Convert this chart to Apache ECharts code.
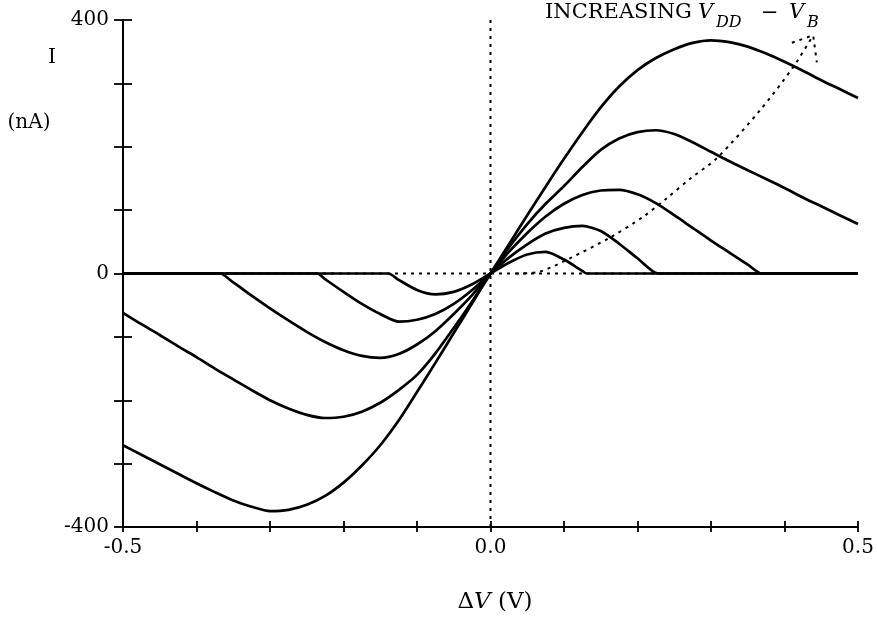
<!DOCTYPE html>
<html>
<head>
<meta charset="utf-8">
<script src="https://cdn.jsdelivr.net/npm/echarts@6/dist/echarts.min.js"></script>
<style>
  body { margin: 0; background: #fff; }
  #main { width: 877px; height: 620px; }
</style>
</head>
<body>
<div id="main"></div>
<script>
// curves, [dV (V), I (nA)], largest V_DD - V_B first
const curve1 = [[-0.5, -271], [-0.475, -286], [-0.45, -301], [-0.425, -316], [-0.4, -331], [-0.375, -345], [-0.35, -358], [-0.325, -368], [-0.3, -375], [-0.275, -373],
  [-0.25, -365], [-0.225, -351], [-0.2, -330], [-0.175, -303], [-0.15, -271], [-0.125, -232], [-0.1, -187], [-0.075, -141], [-0.05, -94], [-0.025, -47], [0, 0],
  [0.025, 46], [0.05, 92], [0.075, 137], [0.1, 181], [0.125, 223], [0.15, 262], [0.175, 295], [0.2, 321], [0.225, 340], [0.25, 354],
  [0.275, 364], [0.3, 368], [0.325, 365], [0.35, 358], [0.375, 347], [0.4, 334], [0.425, 320], [0.45, 305], [0.475, 291], [0.5, 277]]
const curve2 = [[-0.5, -62], [-0.475, -80], [-0.45, -97], [-0.425, -115], [-0.4, -132], [-0.375, -150], [-0.35, -167], [-0.325, -184], [-0.3, -200], [-0.275, -213],
  [-0.25, -223], [-0.225, -228], [-0.2, -226], [-0.175, -218], [-0.15, -204], [-0.125, -184], [-0.1, -160], [-0.075, -126], [-0.05, -86], [-0.025, -44], [0, 0],
  [0.025, 41], [0.05, 78], [0.075, 110], [0.1, 138], [0.125, 168], [0.15, 195], [0.175, 213], [0.2, 223], [0.225, 226], [0.25, 220],
  [0.275, 207], [0.3, 192], [0.325, 177], [0.35, 163], [0.375, 149], [0.4, 135], [0.425, 120], [0.45, 106], [0.475, 92], [0.5, 78]]
const curve3 = [[-0.5, 0], [-0.4, 0], [-0.375, 0], [-0.368, 0], [-0.35, -14], [-0.325, -35], [-0.3, -55], [-0.275, -74],
  [-0.25, -92], [-0.225, -108], [-0.2, -121], [-0.175, -130], [-0.15, -133], [-0.125, -127], [-0.1, -112], [-0.075, -91], [-0.05, -64], [-0.025, -34], [0, 0],
  [0.025, 34], [0.05, 64], [0.075, 90], [0.1, 110], [0.125, 124], [0.15, 131], [0.175, 132], [0.2, 125], [0.225, 111], [0.25, 92],
  [0.275, 72], [0.3, 52], [0.325, 33], [0.35, 14], [0.369, 0], [0.375, 0], [0.4, 0], [0.5, 0]]
const curve4 = [[-0.5, 0], [-0.3, 0], [-0.25, 0], [-0.236, 0], [-0.225, -9], [-0.2, -29], [-0.175, -48], [-0.15, -64], [-0.125, -76], [-0.1, -73], [-0.075, -64], [-0.05, -48], [-0.025, -26], [0, 0],
  [0.025, 25], [0.05, 46], [0.075, 63], [0.1, 72], [0.125, 75], [0.15, 67], [0.175, 47], [0.2, 24], [0.228, 0], [0.25, 0], [0.3, 0], [0.5, 0]]
const curve5 = [[-0.5, 0], [-0.2, 0], [-0.15, 0], [-0.139, 0], [-0.125, -10], [-0.1, -26], [-0.075, -33], [-0.05, -29], [-0.025, -17], [0, 0],
  [0.025, 17], [0.05, 30], [0.075, 34], [0.1, 22], [0.125, 4], [0.131, 0], [0.15, 0], [0.2, 0], [0.5, 0]]

// dotted guides and the "increasing" arrow
const zeroLine = [[-0.5, 0], [0.5, 0]]
const centreLine = [[0, -400], [0, 400]]
const arrowPath = [[0.035, 0], [0.067, 3], [0.108, 24], [0.163, 57], [0.207, 89], [0.24, 119], [0.272, 150], [0.308, 182], [0.367, 258], [0.412, 326], [0.439, 376]]
const arrowHead = [[0.41, 364], [0.439, 376], [0.444, 333]]

const xLabels = ['-0.5', '0.0', '0.5']
const yLabels = ['-400', '0', '400']

const serif = 'DejaVu Serif'
const chart = echarts.init(document.getElementById('main'))

const curveSeries = [curve1, curve2, curve3, curve4, curve5].map((d) => ({
  type: 'line',
  data: d,
  smooth: 0.25,
  symbol: 'none',
  z: 3,
  lineStyle: { color: '#000', width: 2.7 }
}))

const dotted = (d, smooth) => ({
  type: 'line',
  data: d,
  symbol: 'none',
  z: 2,
  smooth: smooth,
  lineStyle: { color: '#000', width: 2, type: [3, 5] }
})

const fmtX = (v) => {
  let s = (Math.round(v * 10) / 10).toFixed(1)
  if (s === '-0.0') s = '0.0'
  return xLabels.indexOf(s) >= 0 ? s : ''
}
const fmtY = (v) => yLabels.indexOf(String(v)) >= 0 ? String(v) : ''

const tickStyle = { color: '#000', width: 1.8 }
const txt = (x, y, text, font, align) => ({
  type: 'text', x: x, y: y,
  style: { text: text, font: font, fill: '#000', align: align || 'left', verticalAlign: 'middle' }
})

const option = {
  animation: false,
  grid: { left: 123, right: 19, top: 20, bottom: 93 },
  xAxis: [
    {
      type: 'value', position: 'bottom', min: -0.5, max: 0.5, interval: 0.1,
      splitLine: { show: false },
      axisLine: { onZero: false, lineStyle: { color: '#000', width: 2 } },
      axisTick: { length: 5, lineStyle: tickStyle },
      axisLabel: { color: '#000', fontFamily: serif, fontSize: 20, margin: 11, formatter: fmtX, showMinLabel: true, showMaxLabel: true }
    },
    {
      type: 'value', position: 'bottom', min: -0.5, max: 0.5, interval: 0.1,
      splitLine: { show: false },
      axisLine: { show: false, onZero: false },
      axisTick: { inside: true, length: 6, lineStyle: tickStyle },
      axisLabel: { show: false }
    }
  ],
  yAxis: [
    {
      type: 'value', position: 'left', min: -400, max: 400, interval: 100,
      splitLine: { show: false },
      axisLine: { onZero: false, lineStyle: { color: '#000', width: 2 } },
      axisTick: { length: 9, lineStyle: tickStyle },
      axisLabel: { color: '#000', fontFamily: serif, fontSize: 20, margin: 14, formatter: fmtY, showMinLabel: true, showMaxLabel: true }
    },
    {
      type: 'value', position: 'left', min: -400, max: 400, interval: 100,
      splitLine: { show: false },
      axisLine: { show: false, onZero: false },
      axisTick: { inside: true, length: 9, lineStyle: tickStyle },
      axisLabel: { show: false }
    }
  ],
  series: [
    dotted(zeroLine, false),
    dotted(centreLine, false),
    dotted(arrowPath, 0.3),
    dotted(arrowHead, false)
  ].concat(curveSeries),
  graphic: [
    txt(52, 58, 'I', '20px ' + serif, 'center'),
    txt(29, 123, '(nA)', '20px ' + serif, 'center'),
    {
      type: 'text', x: 495, y: 602,
      style: {
        text: '{a|Δ}{b|V}{a| (V)}', fill: '#000', align: 'center', verticalAlign: 'middle',
        rich: { a: { fontFamily: serif, fontSize: 23 }, b: { fontFamily: serif, fontSize: 23, fontStyle: 'italic' } }
      }
    },
    // INCREASING V_DD - V_B
    txt(545, 13, 'INCREASING', '21px ' + serif),
    txt(698, 13, 'V', 'italic 21px ' + serif),
    txt(716, 23, 'DD', 'italic 16px ' + serif),
    txt(761, 14, '−', '21px ' + serif),
    txt(789, 13, 'V', 'italic 21px ' + serif),
    txt(807, 23, 'B', 'italic 16px ' + serif)
  ]
}

chart.setOption(option)
</script>
</body>
</html>
